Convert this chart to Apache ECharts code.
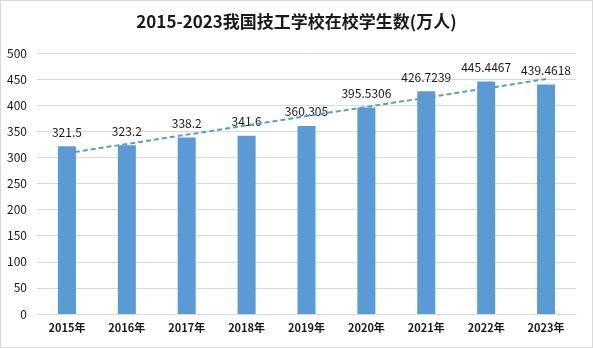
<!DOCTYPE html>
<html><head><meta charset="utf-8">
<script src="https://cdn.jsdelivr.net/npm/echarts@6/dist/echarts.min.js"></script>
<style>html,body{margin:0;padding:0;background:#fff}#c{width:593px;height:348px;box-sizing:border-box;border:1px solid #d9d9d9}</style>
</head><body><div id="c"></div>
<script>
const categories = ['2015年','2016年','2017年','2018年','2019年','2020年','2021年','2022年','2023年'];
const students = [321.5, 323.2, 338.2, 341.6, 360.305, 395.5306, 426.7239, 445.4467, 439.4618];
const trendValues = [308, null, null, null, null, null, null, null, 450];
const yTicks = {min: 0, max: 500, interval: 50};
const chart = echarts.init(document.getElementById('c'));
const font = '"Noto Sans CJK SC", "Noto Sans", sans-serif';
chart.setOption({
  animation: false,
  title: {text: '2015-2023我国技工学校在校学生数(万人)', left: 'center', top: 7,
    textStyle: {fontSize: 17, fontWeight: 'bold', color: '#1a1a1a', fontFamily: font}},
  grid: {left: 36, right: 16, top: 52, bottom: 33},
  xAxis: {type: 'category', data: categories,
    axisLine: {lineStyle: {color: '#d9d9d9'}}, axisTick: {show: false},
    axisLabel: {color: '#1a1a1a', fontSize: 11, fontWeight: 'bold', fontFamily: font, margin: 8}},
  yAxis: {type: 'value', min: yTicks.min, max: yTicks.max, interval: yTicks.interval,
    axisLine: {show: false}, axisTick: {show: false},
    splitLine: {lineStyle: {color: '#d9d9d9'}},
    axisLabel: {color: '#1a1a1a', fontSize: 12, fontFamily: font, margin: 10}},
  series: [
    {type: 'bar', data: students, barWidth: 18, itemStyle: {color: '#5b9bd5'},
      label: {show: true, position: 'top', distance: 8, color: '#1a1a1a', fontSize: 12, fontFamily: font}},
    {type: 'line', data: trendValues, connectNulls: true, symbol: 'none', z: 5,
      lineStyle: {color: '#5b9bd5', width: 2, type: [5, 3]}}
  ]
});
</script></body></html>
